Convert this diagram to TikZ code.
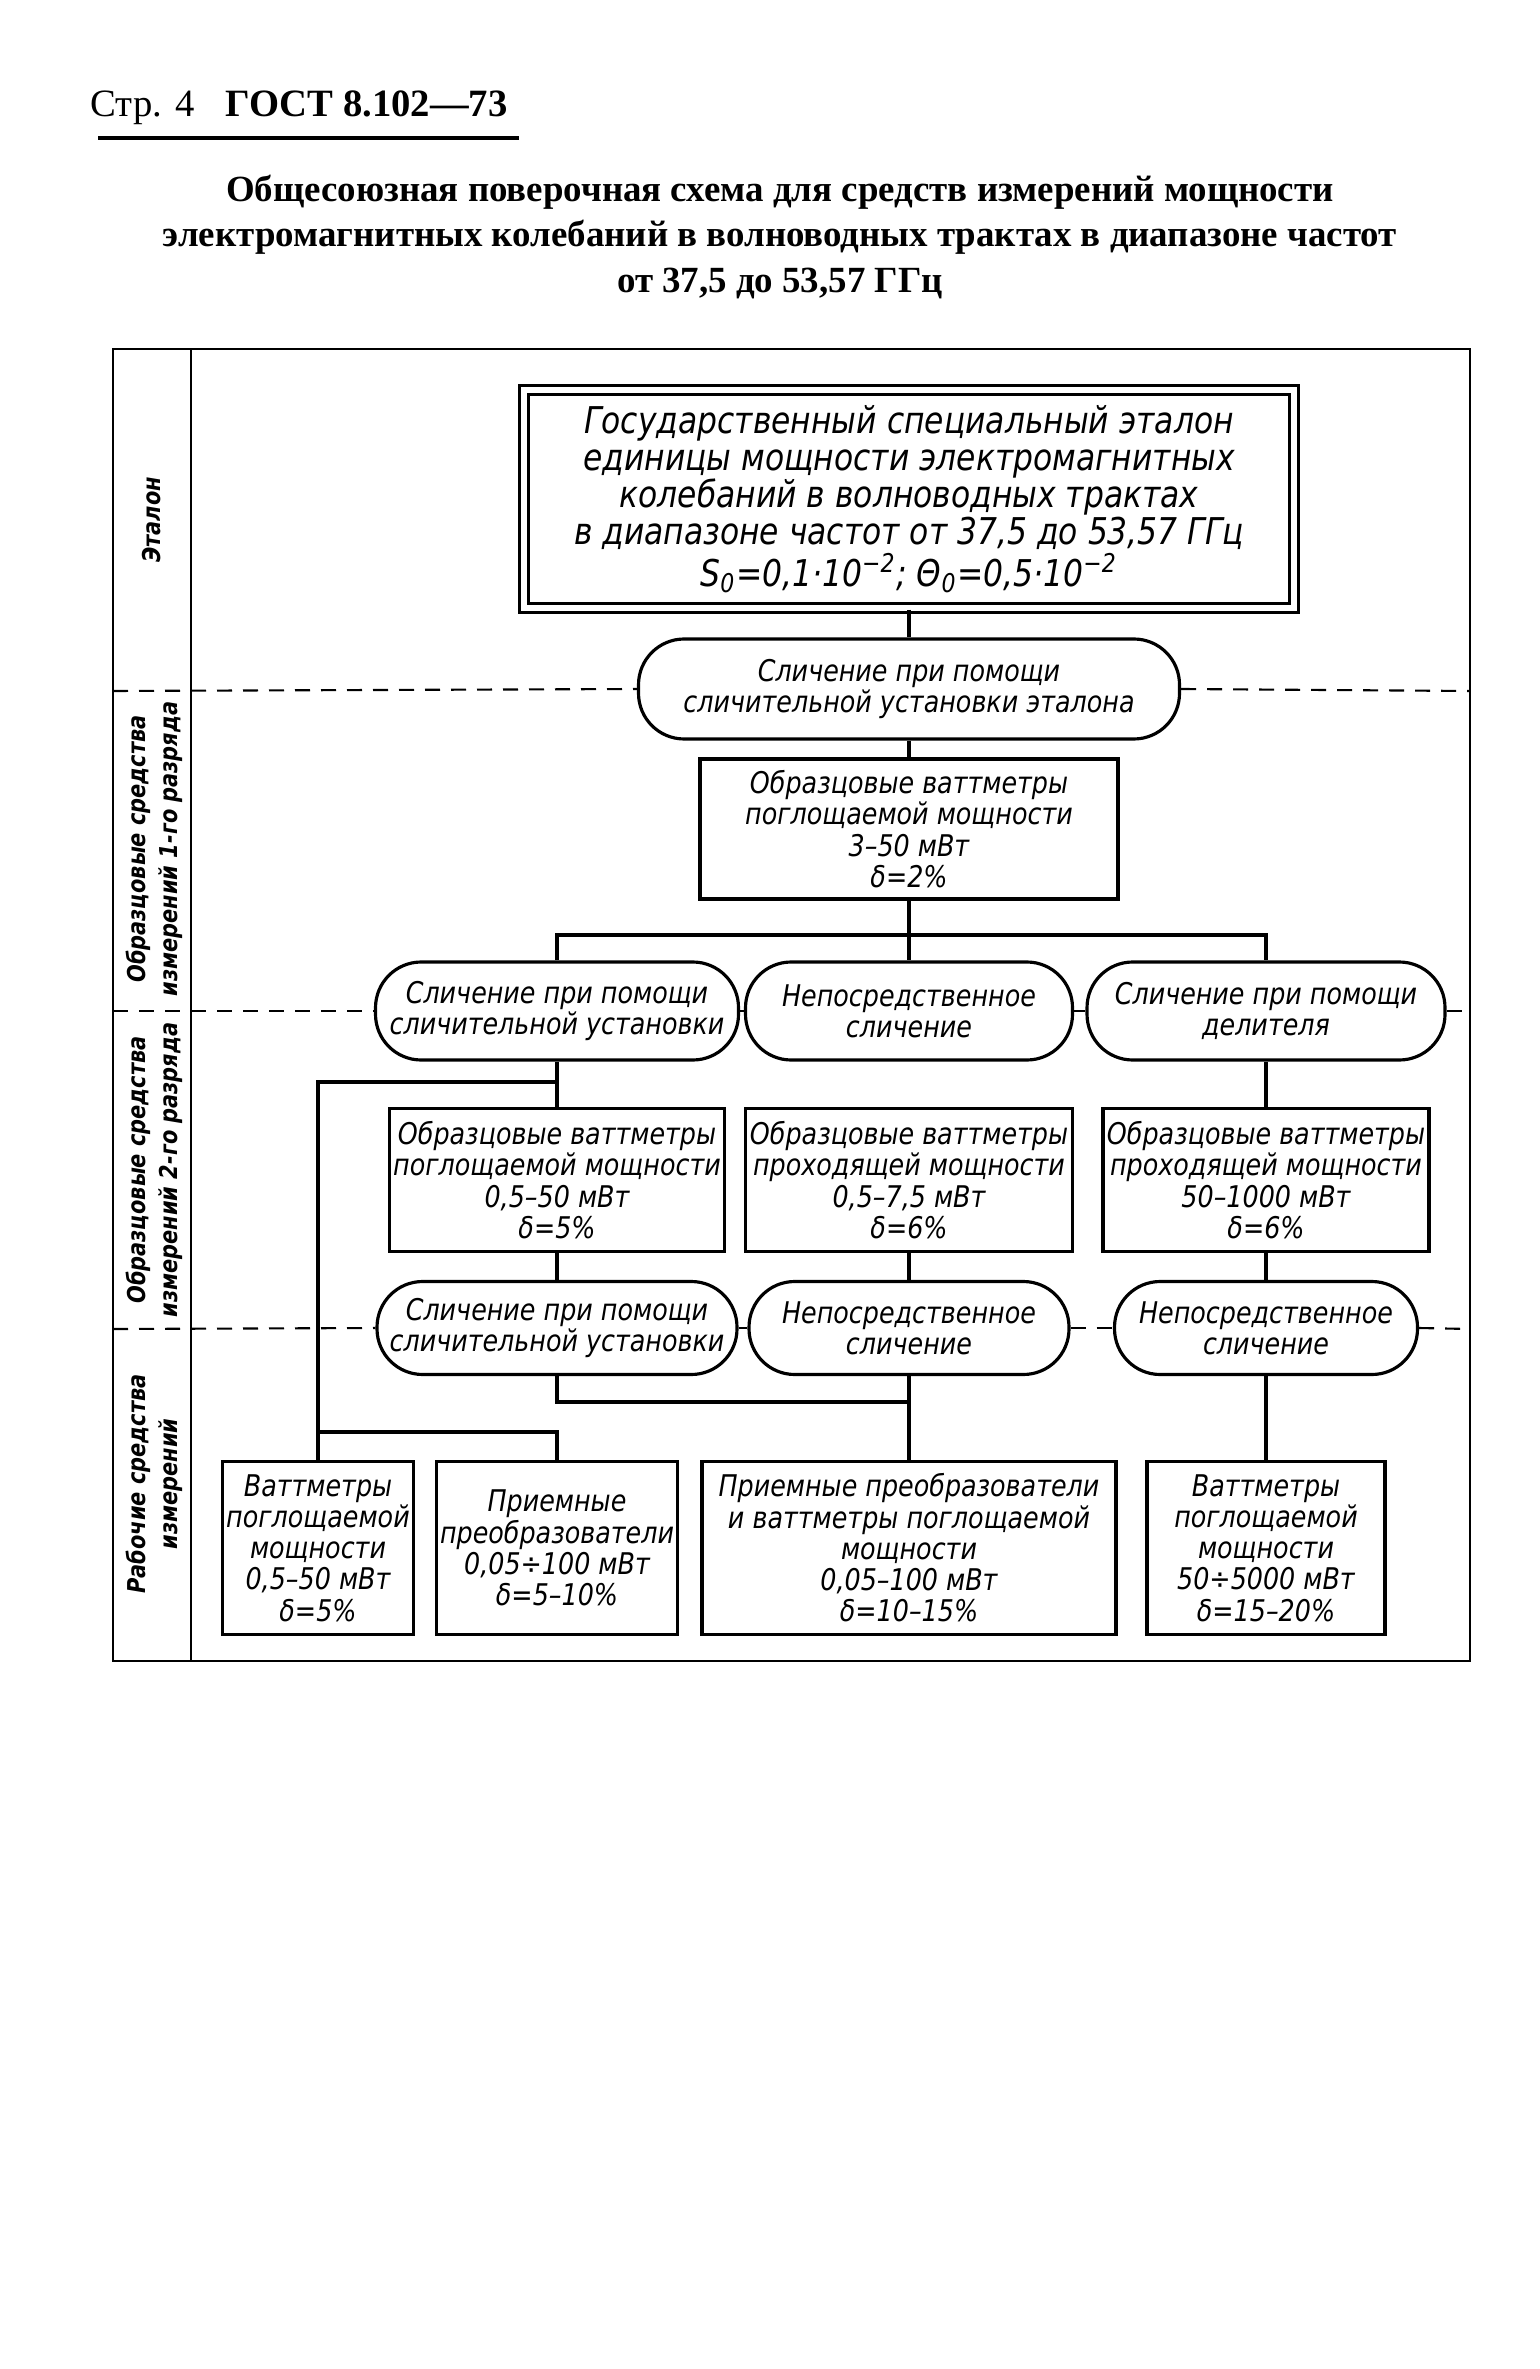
\documentclass[tikz,border=0pt]{standalone}
\usepackage{fontspec}
\setmainfont{Liberation Serif}
\newfontfamily\draftfont[FakeStretch=0.85]{DejaVu Sans}
\usetikzlibrary{positioning,calc}
\newcommand{\boxfont}{\draftfont\itshape\fontsize{8.5}{8.9}\selectfont}
\newcommand{\etfont}{\draftfont\itshape\fontsize{10.5}{10.6}\selectfont}
\newcommand{\sidefont}{\draftfont\bfseries\itshape\fontsize{7}{9.2}\selectfont}
\newcommand{\bnode}[5]{\node [box, minimum width=#3mm, minimum height=#4mm] (#1) at (#2) {#5}}
\newcommand{\cnode}[5]{\node [cmp, minimum width=#3mm, minimum height=#4mm] (#1) at (#2) {#5}}

\tikzset{
  box/.style={draw, line width=0.9pt, align=center, inner sep=1pt, font=\boxfont},
  cmp/.style={box, rounded corners=13pt},
  link/.style={line width=0.9pt},
  level/.style={line width=0.6pt, dash pattern=on 1.5mm off 1.1mm},
  frame/.style={line width=0.7pt},
  side/.style={rotate=90, align=center, font=\sidefont},
}

\begin{document}
\begin{tikzpicture}[x=0.1mm,y=-0.1mm]
\useasboundingbox (0,0) rectangle (1539,2369);

% header
\node [anchor=base west, inner sep=0pt, font=\fontsize{11}{13}\selectfont] (page) at (90,117) {Стр. 4};
\node [anchor=base west, inner sep=0pt, font=\fontsize{11}{13}\selectfont\bfseries] (gost) at (225,117) {ГОСТ 8.102—73};
\draw [line width=1.1pt] (98,138) -- (519,138);
\node [align=center, font=\fontsize{10.5}{12.9}\selectfont\bfseries] (title) at (780,237)
  {Общесоюзная поверочная схема для средств измерений мощности\\
   электромагнитных колебаний в волноводных трактах в диапазоне частот\\
   от 37,5 до 53,57 ГГц};

% frame
\draw [frame] (113,349) rectangle (1470,1661);
\draw [frame] (191,349) -- (191,1661);
\coordinate (L1) at (113,691);  \coordinate (R1) at (1470,691);
\coordinate (L2) at (113,1011); \coordinate (R2) at (1470,1011);
\coordinate (L3) at (113,1329); \coordinate (R3) at (1470,1329);

\node [side] (s1) at (152,520) {Эталон};
\node [side] (s2) at (154,849) {Образцовые средства\\ измерений 1-го разряда};
\node [side] (s3) at (154,1170) {Образцовые средства\\ измерений 2-го разряда};
\node [side] (s4) at (154,1484) {Рабочие средства\\ измерений};

% standard
\node [box, double, double distance=0.6mm, font=\etfont, minimum width=77mm, minimum height=21.8mm] (std) at (909,499)
  {Государственный специальный эталон\\ единицы мощности электромагнитных\\ колебаний в волноводных трактах\\
   в диапазоне частот от 37,5 до 53,57 ГГц\\ S\textsubscript{0}=0,1·10\textsuperscript{−2}; Θ\textsubscript{0}=0,5·10\textsuperscript{−2}};

\cnode{rb1}{909,689}{54.1}{10}{Сличение при помощи\\ сличительной установки эталона};
\bnode{b1}{909,829}{41.8}{14}{Образцовые ваттметры\\ поглощаемой мощности\\ 3–50 мВт\\ δ=2\%};

\cnode{rb2a}{557,1011}{36.3}{9.8}{Сличение при помощи\\ сличительной установки};
\cnode{rb2b}{909,1011}{32.7}{9.8}{Непосредственное\\ сличение};
\cnode{rb2c}{1266,1011}{35.8}{9.8}{Сличение при помощи\\ делителя};

\bnode{b3a}{557,1180}{33.1}{14.3}{Образцовые ваттметры\\ поглощаемой мощности\\ 0,5–50 мВт\\ δ=5\%};
\bnode{b3b}{909,1180}{32.7}{14.3}{Образцовые ваттметры\\ проходящей мощности\\ 0,5–7,5 мВт\\ δ=6\%};
\bnode{b3c}{1266,1180}{32.6}{14.3}{Образцовые ваттметры\\ проходящей мощности\\ 50–1000 мВт\\ δ=6\%};

\cnode{rb4a}{557,1328}{36}{9.3}{Сличение при помощи\\ сличительной установки};
\cnode{rb4b}{909,1328}{32}{9.3}{Непосредственное\\ сличение};
\cnode{rb4c}{1266,1328}{30.3}{9.3}{Непосредственное\\ сличение};

\bnode{r1}{318,1548}{18.1}{17.3}{Ваттметры\\ поглощаемой\\ мощности\\ 0,5–50 мВт\\ δ=5\%};
\bnode{r2}{557,1548}{23.3}{17.3}{Приемные\\ преобразователи\\ 0,05÷100 мВт\\ δ=5–10\%};
\bnode{r3}{909,1548}{41.4}{17.3}{Приемные преобразователи\\ и ваттметры поглощаемой\\ мощности\\ 0,05–100 мВт\\ δ=10–15\%};
\bnode{r4}{1266,1548}{23.8}{17.3}{Ваттметры\\ поглощаемой\\ мощности\\ 50÷5000 мВт\\ δ=15–20\%};

% levels
\draw [level] (L1) -- (rb1.west);
\draw [level] (rb1.east) -- (R1);
\draw [level] (L2) -- (rb2a.west);
\draw [level] (rb2a.east) -- (rb2b.west);
\draw [level] (rb2b.east) -- (rb2c.west);
\draw [level] (rb2c.east) -- (R2);
\draw [level] (L3) -- (rb4a.west);
\draw [level] (rb4a.east) -- (rb4b.west);
\draw [level] (rb4b.east) -- (rb4c.west);
\draw [level] (rb4c.east) -- (R3);

% links
\coordinate (fork) at (909,935);
\coordinate (jA) at (557,1082);
\coordinate (jR) at (318,1432);
\coordinate (jB) at (909,1402);
\draw [link] (std) -- (rb1);
\draw [link] (rb1) -- (b1);
\draw [link] (b1) -- (rb2b);
\draw [link] (rb2a.north) |- (fork) -| (rb2c.north);
\draw [link] (rb2a) -- (b3a);
\draw [link] (rb2c) -- (b3c);
\draw [link] (jA) -| (r1.north);
\draw [link] (jR) -| (r2.north);
\draw [link] (b3a) -- (rb4a);
\draw [link] (b3b) -- (rb4b);
\draw [link] (b3c) -- (rb4c);
\draw [link] (rb4a.south) |- (jB);
\draw [link] (rb4b) -- (r3);
\draw [link] (rb4c) -- (r4);

\end{tikzpicture}
\end{document}
